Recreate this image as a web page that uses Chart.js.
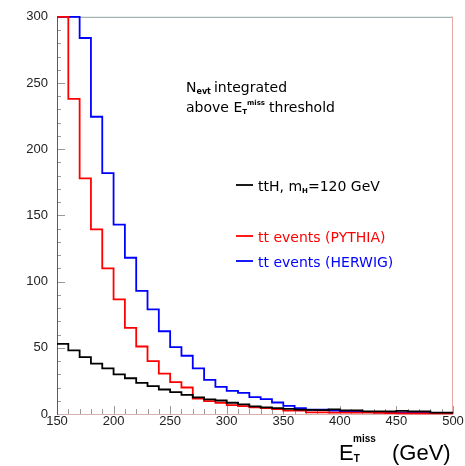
<!DOCTYPE html>
<html>
<head>
<meta charset="utf-8">
<script src="https://cdn.jsdelivr.net/npm/chart.js@4/dist/chart.umd.min.js"></script>
<style>
  html, body { margin: 0; padding: 0; background: #fff; }
  #wrap { width: 465px; height: 466px; }
</style>
</head>
<body>
<div id="wrap"><canvas id="chart" width="465" height="466"></canvas></div>
<script>
// --- Données ---
// bords inférieurs des bins (GeV), le dernier ferme l'histogramme
const binEdges = [150, 160, 170, 180, 190, 200, 210, 220, 230, 240, 250, 260, 270, 280, 290,
  300, 310, 320, 330, 340, 350, 360, 370, 380, 390, 400, 410, 420, 430, 440, 450, 460, 470, 480, 490, 500];

// N evt intégré au-dessus du seuil, un nombre par bin
const tthValues = [53, 48, 43, 38, 34.5, 30, 27, 23.5, 21, 18.5, 16.5, 14.5, 12.5, 11, 10.2,
  8.5, 7.2, 5.8, 5, 4.5, 3.8, 3.3, 3.1, 3, 3.5, 2.7, 2.7, 2, 2, 2, 2.3, 2, 2, 1, 1];
const pythiaValues = [330, 238, 178, 139.5, 110, 86.5, 65, 51, 40, 30.5, 24, 20, 11.7, 9.7, 8.5,
  6.7, 6, 5, 4.5, 3.7, 2.5, 2.5, 1.2, 1.2, 1, 1, 1, 1, 0.8, 0.6, 0.5, 0.5, 0.5, 0.5, 0.5];
const herwigValues = [420, 350, 284, 224.5, 182, 143, 118, 93, 79, 62.5, 50.5, 44, 34.5, 25.7, 20.5,
  17.5, 16, 12.7, 11.2, 8.7, 6.2, 4.5, 3.2, 3.2, 2.5, 2, 2, 1.5, 1.2, 1.2, 1, 1, 0.8, 0.8, 0.6];

const xTickLabels = [150, 200, 250, 300, 350, 400, 450, 500];
const yTickLabels = [0, 50, 100, 150, 200, 250, 300];

const X_MIN = 150, X_MAX = 500, Y_MIN = 0, Y_MAX = 300;

// histogramme en escalier : un point par bord, valeurs coupées au cadre comme ROOT
function toSteps(values) {
  return binEdges.map((x, i) => ({ x, y: Math.min(values[Math.min(i, values.length - 1)], Y_MAX) }));
}

function histDataset(label, values, color) {
  return {
    label,
    data: toSteps(values),
    borderColor: color,
    borderWidth: 1.8,
    stepped: true,
    pointRadius: 0,
    fill: false,
    clip: 2,
  };
}

// texte avec indices / exposants
function drawRich(ctx, x, y, parts, family) {
  let cx = x;
  parts.forEach((p) => {
    ctx.font = `${p.bold ? "bold " : ""}${p.size}px ${family}`;
    ctx.fillStyle = p.color || "#000";
    ctx.textBaseline = "alphabetic";
    ctx.textAlign = "left";
    ctx.fillText(p.t, cx, y + (p.dy || 0));
    cx += ctx.measureText(p.t).width + (p.gap || 0);
  });
}

const framePlugin = {
  id: "frame",
  beforeDatasetsDraw(chart) {
    const { ctx, chartArea: a, scales } = chart;
    const xs = scales.x, ys = scales.y;
    ctx.save();
    ctx.lineWidth = 1;
    // petites graduations, vers l'intérieur
    ctx.strokeStyle = "#9a9a9a";
    ctx.beginPath();
    for (let v = Y_MIN; v <= Y_MAX; v += 10) {
      const py = Math.round(ys.getPixelForValue(v)) + 0.5;
      const len = yTickLabels.includes(v) ? 8 : 4;
      ctx.moveTo(a.left, py);
      ctx.lineTo(a.left + len, py);
    }
    for (let v = X_MIN; v <= X_MAX; v += 10) {
      const px = Math.round(xs.getPixelForValue(v)) + 0.5;
      const len = xTickLabels.includes(v) ? 8 : 5;
      ctx.moveTo(px, a.bottom);
      ctx.lineTo(px, a.bottom - len);
    }
    ctx.stroke();
    // cadre
    const seg = (x1, y1, x2, y2, c) => {
      ctx.strokeStyle = c;
      ctx.beginPath();
      ctx.moveTo(x1, y1);
      ctx.lineTo(x2, y2);
      ctx.stroke();
    };
    seg(a.left, a.top + 0.5, a.right, a.top + 0.5, "#8fa0a0");
    seg(a.right - 0.5, a.top, a.right - 0.5, a.bottom, "#e8a8a8");
    seg(a.left, a.bottom + 0.5, a.right, a.bottom + 0.5, "#d8b0b0");
    seg(a.left + 0.5, a.top, a.left + 0.5, a.bottom + 1, "#4858a8");
    ctx.restore();
  },
  afterDraw(chart) {
    const { ctx } = chart;
    const fam = "'DejaVu Sans'";
    ctx.save();
    drawRich(ctx, 186, 91.5, [
      { t: "N", size: 14 },
      { t: "evt", size: 8, bold: true, dy: 2, gap: 3 },
      { t: "integrated", size: 14 },
    ], fam);
    drawRich(ctx, 186, 112, [
      { t: "above E", size: 14 },
      { t: "T", size: 7, bold: true, dy: 2 },
      { t: "miss", size: 7, bold: true, dy: -7, gap: 4 },
      { t: "threshold", size: 14 },
    ], fam);

    const legend = [
      { y: 185, color: "#000", parts: [
        { t: "ttH, m", size: 14 },
        { t: "H", size: 7, bold: true, dy: 2 },
        { t: "=120 GeV", size: 14 },
      ] },
      { y: 236, color: "#ff0000", parts: [{ t: "tt events (PYTHIA)", size: 14 }] },
      { y: 261, color: "#0000ff", parts: [{ t: "tt events (HERWIG)", size: 14 }] },
    ];
    legend.forEach((l) => {
      ctx.strokeStyle = l.color;
      ctx.lineWidth = 1.8;
      ctx.beginPath();
      ctx.moveTo(236, l.y);
      ctx.lineTo(253, l.y);
      ctx.stroke();
      drawRich(ctx, 258, l.y + 5.5, l.parts.map((p) => ({ ...p, color: l.color })), fam);
    });

    // titre de l'axe x
    drawRich(ctx, 339, 460, [
      { t: "E", size: 22 },
      { t: "T", size: 10, bold: true, dy: 2 },
    ], "'Liberation Sans'");
    drawRich(ctx, 353, 442, [{ t: "miss", size: 10, bold: true }], "'Liberation Sans'");
    drawRich(ctx, 392, 460, [{ t: "(GeV)", size: 22 }], "'Liberation Sans'");
    ctx.restore();
  },
};

new Chart(document.getElementById("chart"), {
  type: "line",
  data: {
    datasets: [
      histDataset("ttH, mH=120 GeV", tthValues, "#000000"),
      histDataset("tt events (PYTHIA)", pythiaValues, "#ff0000"),
      histDataset("tt events (HERWIG)", herwigValues, "#0000ff"),
    ],
  },
  options: {
    responsive: false,
    animation: false,
    devicePixelRatio: 1,
    layout: { padding: { left: 0, right: 12, top: 14, bottom: 0 } },
    plugins: { legend: { display: false }, tooltip: { enabled: false } },
    scales: {
      x: {
        type: "linear",
        min: X_MIN,
        max: X_MAX,
        grid: { display: false, drawTicks: false },
        border: { display: false },
        afterFit: (s) => { s.height = 52; },
        ticks: {
          stepSize: 50,
          padding: 0,
          color: "#222",
          font: { family: "'Liberation Sans'", size: 13 },
          maxRotation: 0,
          callback: (v) => (xTickLabels.includes(v) ? String(v) : ""),
        },
      },
      y: {
        type: "linear",
        min: Y_MIN,
        max: Y_MAX,
        grid: { display: false, drawTicks: false },
        border: { display: false },
        afterFit: (s) => { s.width = 57; },
        ticks: {
          stepSize: 50,
          padding: 9,
          color: "#222",
          font: { family: "'Liberation Sans'", size: 13 },
          callback: (v) => (yTickLabels.includes(v) ? String(v) : ""),
        },
      },
    },
  },
  plugins: [framePlugin],
});
</script>
</body>
</html>
